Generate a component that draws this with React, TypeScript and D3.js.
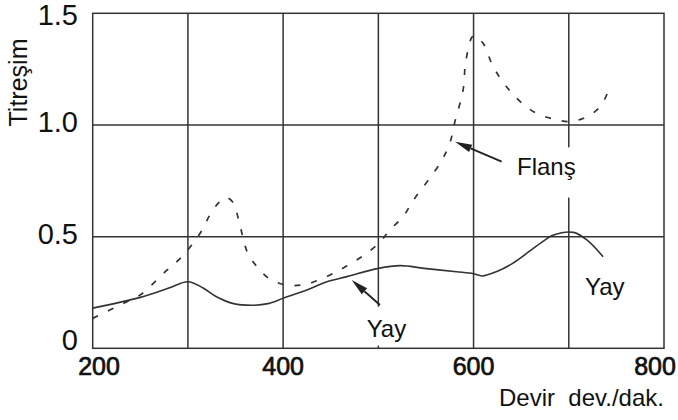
import React, { useEffect, useRef } from 'react';
import * as d3 from 'd3';

// Yay (solid) - devir / titreşim
const springRpm = [200, 250, 280, 300, 316, 330, 348, 370, 384, 400, 425, 446, 467, 500, 523, 548, 582, 600, 609, 625, 641, 670, 684, 705, 719, 736];
const springVal = [0.18, 0.228, 0.27, 0.298, 0.27, 0.231, 0.2, 0.193, 0.2, 0.224, 0.261, 0.298, 0.321, 0.358, 0.37, 0.358, 0.343, 0.334, 0.324, 0.345, 0.38, 0.47, 0.507, 0.519, 0.485, 0.41];

// Flanş (dashed)
const flangeRpm = [200, 236, 250, 278, 292, 304, 315, 323, 332, 340, 347, 353, 358, 363, 374, 386, 404, 425, 453, 470, 486, 502, 512, 526, 537, 565, 575, 580, 589, 592, 600, 610, 619, 628, 639, 651, 666, 684, 701, 719, 733, 742];
const flangeVal = [0.134, 0.209, 0.239, 0.35, 0.403, 0.463, 0.53, 0.597, 0.65, 0.675, 0.655, 0.58, 0.493, 0.425, 0.358, 0.31, 0.283, 0.288, 0.336, 0.377, 0.42, 0.477, 0.53, 0.59, 0.664, 0.83, 0.918, 1.008, 1.157, 1.29, 1.4, 1.366, 1.276, 1.209, 1.149, 1.097, 1.052, 1.027, 1.015, 1.037, 1.082, 1.157];

const xTicks = [200, 400, 600, 800];
const yTicks = [0, 0.5, 1.0, 1.5];
const yTickLabels = ['0', '0.5', '1.0', '1.5'];
const xGrid = [300, 400, 500, 600, 700];
const yGrid = [0.5, 1.0];

// annotations: label text, label anchor [rpm, value], white box behind it
const labels = [
  { text: 'Flanş', at: [645.6, 0.776], box: [[640, 0.9], [716, 0.675]] },
  { text: 'Yay', at: [487.7, 0.052], box: [[484, 0.186], [538, 0.012]] },
  { text: 'Yay', at: [717, 0.239], box: null },
];
const arrows = [
  { tip: [580.5, 0.925], tail: [629.5, 0.836] },
  { tip: [472, 0.306], tail: [501.7, 0.194] },
];

const W = 678;
const H = 420;
const FONT = '"Liberation Sans", Arial, sans-serif';

export default function App() {
  const svgRef = useRef<SVGSVGElement>(null);

  useEffect(() => {
    if (!svgRef.current) return;
    const svg = d3.select(svgRef.current);
    svg.selectAll('*').remove();

    const x = d3.scaleLinear().domain([200, 800]).range([92.7, 664]);
    const y = d3.scaleLinear().domain([0, 1.5]).range([348.3, 13.3]);
    const ink = '#333';

    // grid
    xGrid.forEach(v => {
      svg.append('line')
        .attr('x1', x(v)).attr('x2', x(v))
        .attr('y1', y(0)).attr('y2', y(1.5))
        .attr('stroke', ink).attr('stroke-width', 1.5);
    });
    yGrid.forEach(v => {
      svg.append('line')
        .attr('x1', x(200)).attr('x2', x(800))
        .attr('y1', y(v)).attr('y2', y(v))
        .attr('stroke', ink).attr('stroke-width', 1.5);
    });

    // white boxes behind labels
    labels.forEach(l => {
      if (!l.box) return;
      const [[a, b], [c, d]] = l.box;
      svg.append('rect')
        .attr('x', x(a)).attr('y', y(b))
        .attr('width', x(c) - x(a)).attr('height', y(d) - y(b))
        .attr('fill', '#fff');
    });

    // frame
    svg.append('rect')
      .attr('x', x(200)).attr('y', y(1.5))
      .attr('width', x(800) - x(200)).attr('height', y(0) - y(1.5))
      .attr('fill', 'none').attr('stroke', ink).attr('stroke-width', 1.5);

    const line = d3.line<[number, number]>()
      .x(d => x(d[0]))
      .y(d => y(d[1]))
      .curve(d3.curveCatmullRom.alpha(0.5));

    const spring = springRpm.map((r, i) => [r, springVal[i]] as [number, number]);
    const flange = flangeRpm.map((r, i) => [r, flangeVal[i]] as [number, number]);

    svg.append('path')
      .attr('d', line(flange))
      .attr('fill', 'none').attr('stroke', '#333').attr('stroke-width', 1.7)
      .attr('stroke-dasharray', '6,11');

    svg.append('path')
      .attr('d', line(spring))
      .attr('fill', 'none').attr('stroke', '#333').attr('stroke-width', 1.6);

    // arrows
    arrows.forEach(a => {
      const tx = x(a.tip[0]), ty = y(a.tip[1]);
      const sx = x(a.tail[0]), sy = y(a.tail[1]);
      const ang = Math.atan2(ty - sy, tx - sx);
      const len = 17, half = 4;
      const bx = tx - len * Math.cos(ang), by = ty - len * Math.sin(ang);
      svg.append('line')
        .attr('x1', sx).attr('y1', sy).attr('x2', bx).attr('y2', by)
        .attr('stroke', '#222').attr('stroke-width', 1.8);
      svg.append('polygon')
        .attr('points', [
          [tx, ty],
          [bx + half * Math.sin(ang), by - half * Math.cos(ang)],
          [bx - half * Math.sin(ang), by + half * Math.cos(ang)],
        ].map(p => p.join(',')).join(' '))
        .attr('fill', '#222');
    });

    // labels
    labels.forEach(l => {
      svg.append('text')
        .attr('x', x(l.at[0])).attr('y', y(l.at[1]))
        .attr('font-family', FONT).attr('font-size', 24).attr('fill', '#111')
        .text(l.text);
    });

    // y tick labels
    yTicks.forEach((v, i) => {
      svg.append('text')
        .attr('x', 78)
        .attr('y', Math.min(Math.max(y(v) + 7, 25), 350))
        .attr('text-anchor', 'end')
        .attr('font-family', FONT).attr('font-size', 29).attr('fill', '#111')
        .text(yTickLabels[i]);
    });

    // x tick labels (semi-bold look)
    xTicks.forEach(v => {
      svg.append('text')
        .attr('x', Math.min(Math.max(x(v), 99), W - 23))
        .attr('y', 375)
        .attr('text-anchor', 'middle')
        .attr('font-family', FONT).attr('font-size', 25)
        .attr('fill', '#111').attr('stroke', '#111').attr('stroke-width', 0.7)
        .text(String(v));
    });

    // axis titles
    svg.append('text')
      .attr('transform', 'translate(27,82.5) rotate(-90)')
      .attr('text-anchor', 'middle')
      .attr('font-family', FONT).attr('font-size', 25).attr('fill', '#111')
      .text('Titreşim');

    svg.append('text')
      .attr('x', 499).attr('y', 406)
      .attr('font-family', FONT).attr('font-size', 24).attr('fill', '#111')
      .attr('xml:space', 'preserve')
      .style('white-space', 'pre')
      .text('Devir  dev./dak.');
  }, []);

  return (
    <svg
      ref={svgRef}
      width={W}
      height={H}
      style={{ position: 'absolute', left: 0, top: 0, background: '#fff' }}
    />
  );
}
